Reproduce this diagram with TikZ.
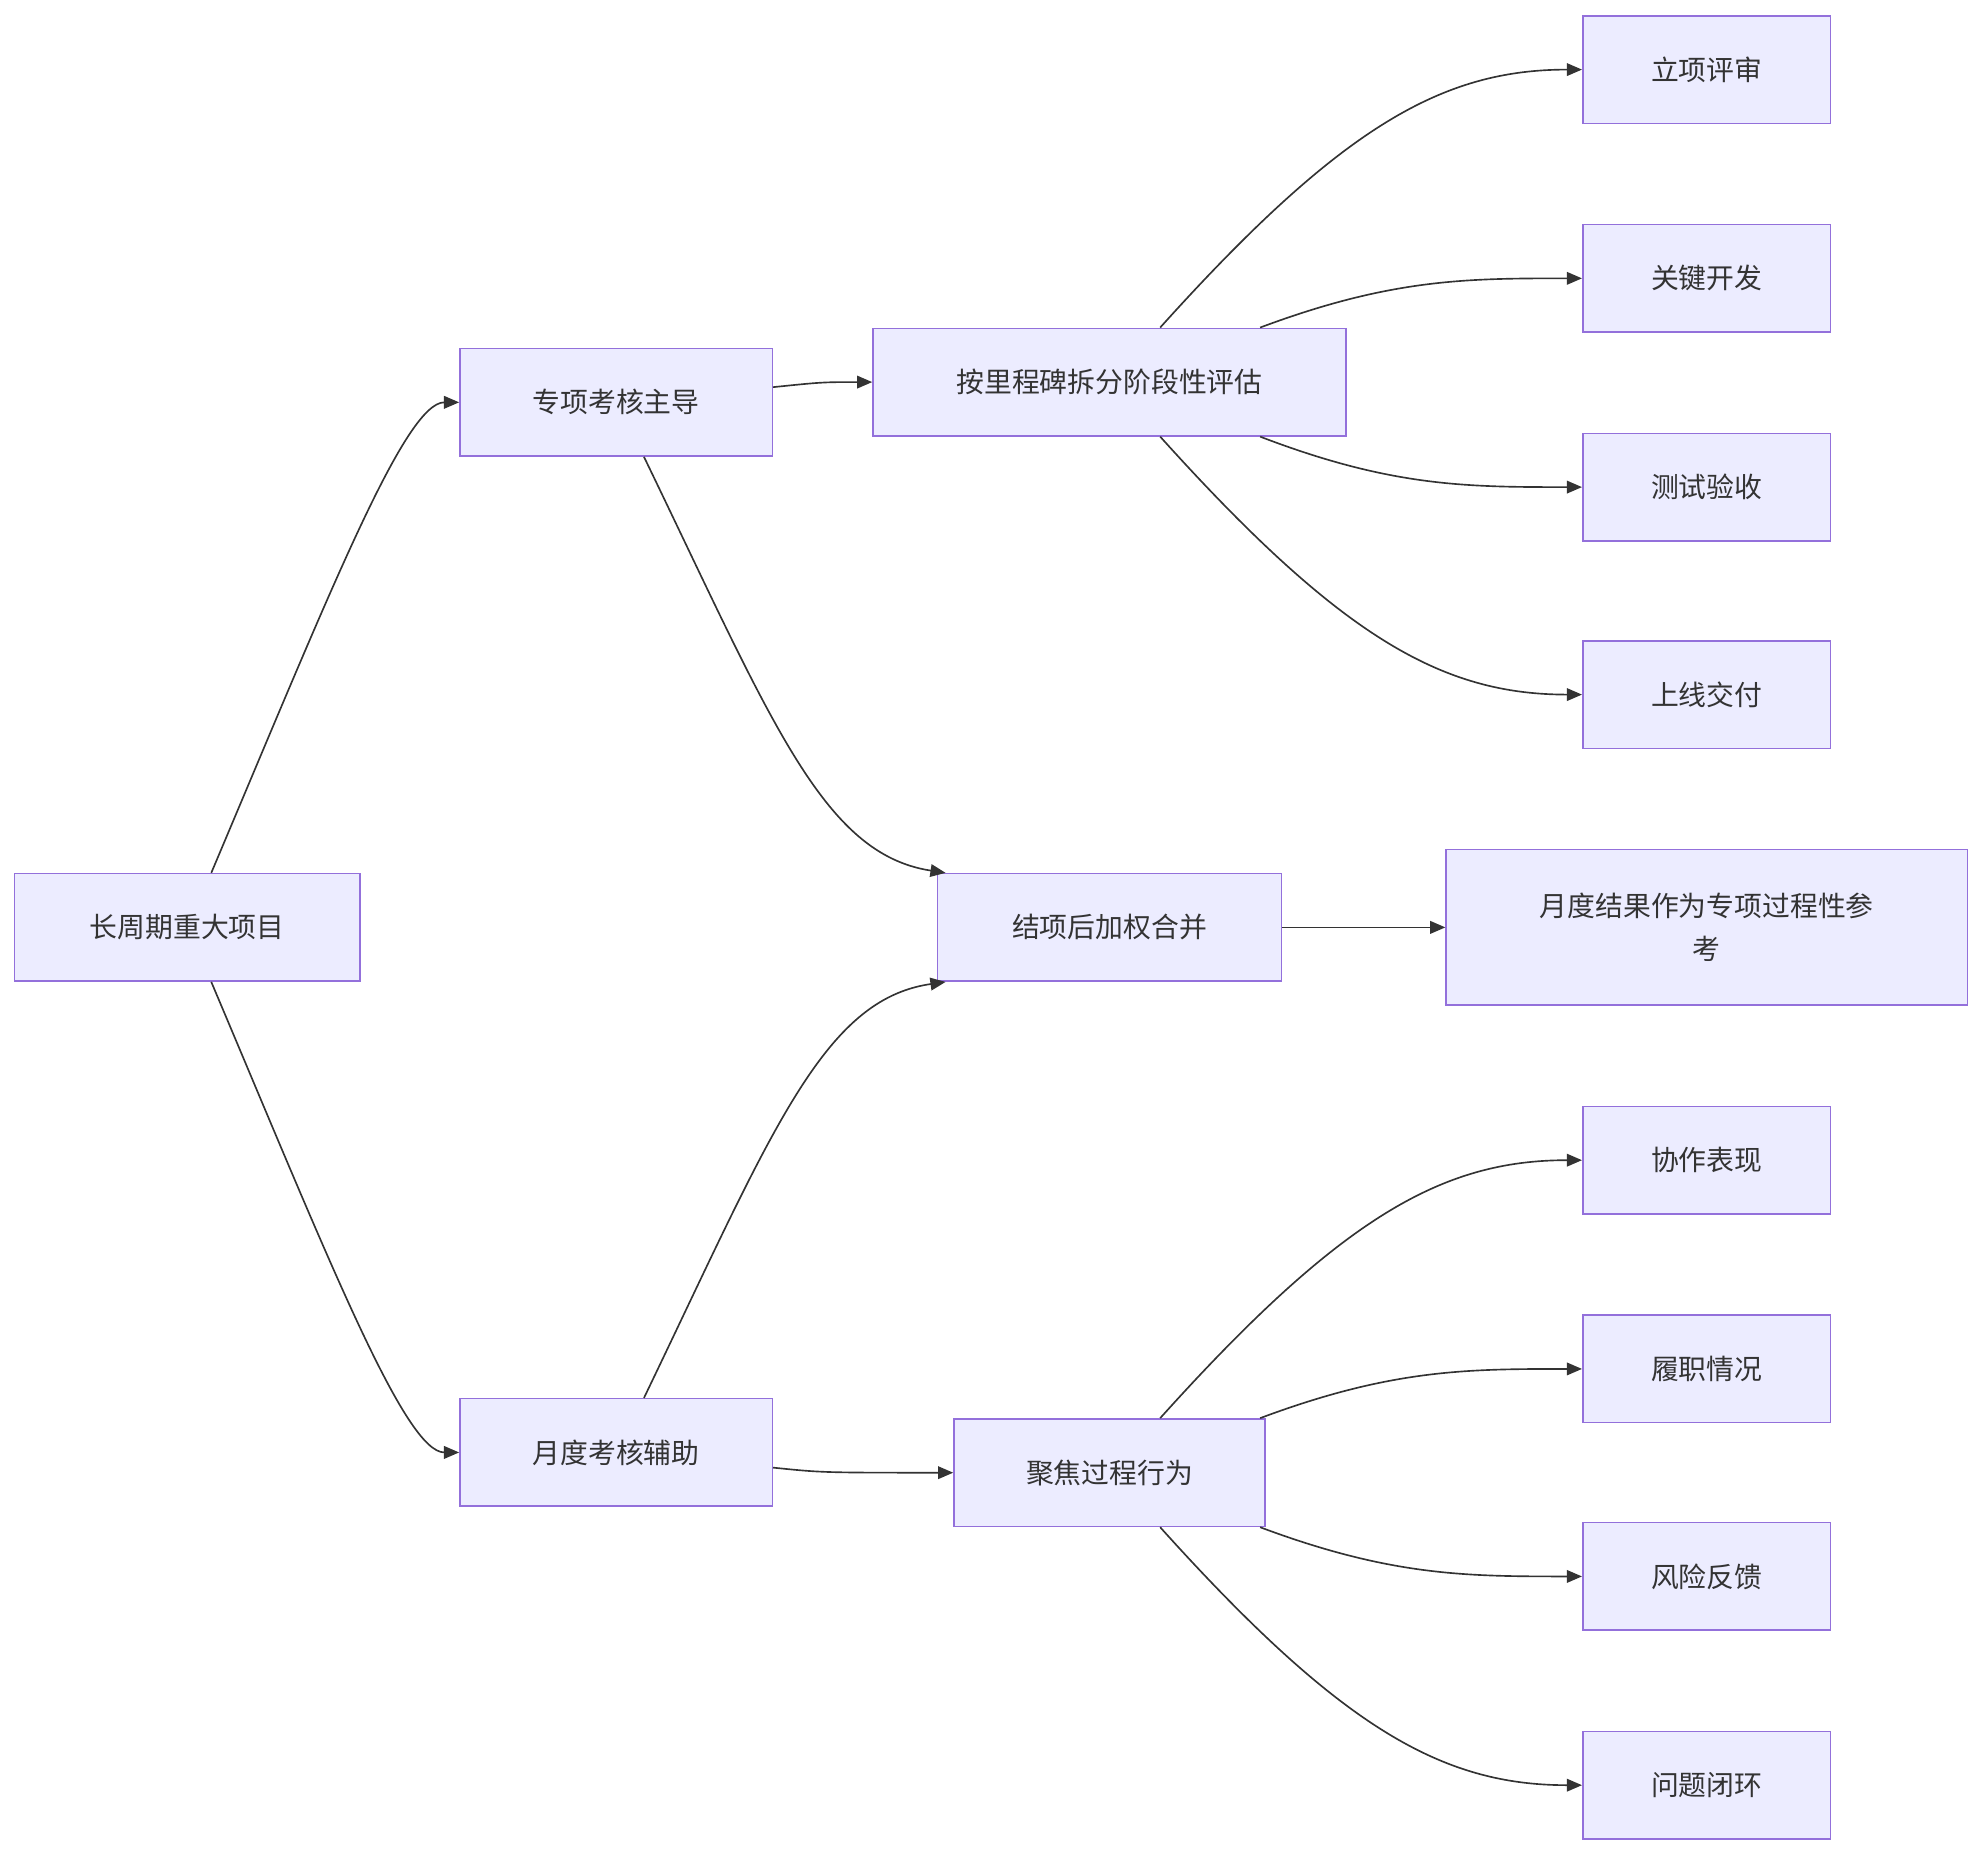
\documentclass[tikz,border=0pt]{standalone}
\usepackage{fontspec}
\setmainfont{Noto Sans CJK SC}
\usetikzlibrary{arrows.meta}
\definecolor{boxfill}{HTML}{ECECFF}
\definecolor{boxline}{HTML}{9370DB}
\definecolor{ln}{HTML}{333333}
\begin{document}
\begin{tikzpicture}[x=1pt,y=-1pt,
  bx/.style={draw=boxline,fill=boxfill,line width=1.2pt,inner sep=0pt,minimum height=85pt,font=\fontsize{22}{34}\selectfont,text=ln,align=center},
  ar/.style={draw=ln,line width=1.3pt,-{Triangle[length=12pt,width=10pt]}}]
\useasboundingbox (0,0) rectangle (1565,1465);
\node[bx,minimum width=273pt] (A) at (148,733) {长周期重大项目};
\node[bx,minimum width=247pt] (B) at (487,318) {专项考核主导};
\node[bx,minimum width=247pt] (C) at (487,1148) {月度考核辅助};
\node[bx,minimum width=374pt] (D) at (877,302) {按里程碑拆分阶段性评估};
\node[bx,minimum width=272pt] (E) at (877,733) {结项后加权合并};
\node[bx,minimum width=246pt] (F) at (877,1164) {聚焦过程行为};
\node[bx,minimum width=412pt,minimum height=123pt] (G) at (1349,733) {月度结果作为专项过程性参\\考};
\foreach \n/\y/\t in {R1/55/立项评审,R2/220/关键开发,R3/385/测试验收,R4/549/上线交付,S1/917/协作表现,S2/1082/履职情况,S3/1246/风险反馈,S4/1411/问题闭环}
  \node[bx,minimum width=196pt] (\n) at (1349,\y) {\t};
\draw[ar] ([xshift=19pt]A.north) .. controls (260,470) and (320,318) .. (B.west);
\draw[ar] ([xshift=19pt]A.south) .. controls (260,996) and (320,1148) .. (C.west);
\draw[ar] (611,306) .. controls (650,302) .. (D.west);
\draw[ar] (611,1160) .. controls (650,1164) .. (F.west);
\draw[ar] ([xshift=22pt]B.south) .. controls (610,570) and (650,675) .. ([xshift=7pt]E.north west);
\draw[ar] ([xshift=22pt]C.north) .. controls (610,895) and (650,790) .. ([xshift=7pt]E.south west);
\draw[ar] (E.east) -- (G.west);
\draw[ar] ([xshift=40pt]D.north) .. controls (1060,100) and (1140,55) .. (R1.west);
\draw[ar] ([xshift=119pt]D.north) .. controls (1100,220) and (1160,220) .. (R2.west);
\draw[ar] ([xshift=119pt]D.south) .. controls (1100,385) and (1160,385) .. (R3.west);
\draw[ar] ([xshift=40pt]D.south) .. controls (1060,504) and (1140,549) .. (R4.west);
\draw[ar] ([xshift=40pt]F.north) .. controls (1060,962) and (1140,917) .. (S1.west);
\draw[ar] ([xshift=119pt]F.north) .. controls (1100,1082) and (1160,1082) .. (S2.west);
\draw[ar] ([xshift=119pt]F.south) .. controls (1100,1246) and (1160,1246) .. (S3.west);
\draw[ar] ([xshift=40pt]F.south) .. controls (1060,1366) and (1140,1411) .. (S4.west);
\end{tikzpicture}
\end{document}
